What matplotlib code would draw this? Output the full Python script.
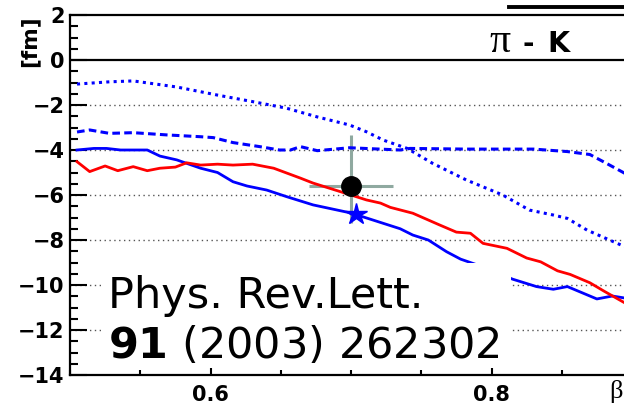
import matplotlib.pyplot as plt
from matplotlib.ticker import MultipleLocator
from matplotlib.patches import Rectangle
from matplotlib.lines import Line2D

# HBT source-shift vs. pair velocity, pi-K pairs
beta_red = [0.505, 0.514, 0.525, 0.534, 0.545, 0.555, 0.564, 0.575, 0.583, 0.593,
            0.605, 0.616, 0.630, 0.645, 0.664, 0.673, 0.700, 0.711, 0.721, 0.728,
            0.744, 0.763, 0.775, 0.785, 0.794, 0.811, 0.825, 0.835, 0.847, 0.856,
            0.870, 0.880, 0.895]
shift_red = [-4.52, -4.96, -4.71, -4.92, -4.74, -4.92, -4.81, -4.76, -4.57, -4.67,
             -4.63, -4.67, -4.63, -4.81, -5.25, -5.47, -6.00, -6.22, -6.36, -6.55,
             -6.81, -7.33, -7.65, -7.70, -8.15, -8.37, -8.80, -8.97, -9.37, -9.53,
             -9.90, -10.27, -10.80]

beta_solid = [0.505, 0.517, 0.526, 0.536, 0.555, 0.564, 0.576, 0.593, 0.605, 0.616,
              0.626, 0.640, 0.654, 0.673, 0.700, 0.721, 0.735, 0.744, 0.755, 0.768,
              0.778, 0.790, 0.815, 0.832, 0.844, 0.854, 0.875, 0.886, 0.895]
shift_solid = [-4.00, -3.93, -3.93, -4.00, -4.00, -4.27, -4.44, -4.81, -5.00, -5.41,
               -5.60, -5.78, -6.07, -6.44, -6.80, -7.22, -7.50, -7.78, -8.00, -8.52,
               -8.85, -9.11, -9.74, -10.07, -10.19, -10.07, -10.62, -10.49, -10.58]

beta_dashed = [0.505, 0.514, 0.528, 0.545, 0.569, 0.593, 0.602, 0.616, 0.635, 0.649,
               0.657, 0.664, 0.676, 0.699, 0.735, 0.742, 0.782, 0.830, 0.854, 0.870,
               0.882, 0.895]
shift_dashed = [-3.20, -3.11, -3.26, -3.23, -3.33, -3.41, -3.45, -3.67, -3.85, -4.00,
                -4.00, -3.85, -4.03, -3.90, -4.00, -3.93, -3.96, -3.96, -4.07, -4.20,
                -4.60, -5.04]

beta_dotted = [0.505, 0.528, 0.545, 0.576, 0.605, 0.630, 0.654, 0.676, 0.699, 0.711,
               0.723, 0.740, 0.758, 0.782, 0.808, 0.827, 0.844, 0.854, 0.868, 0.884,
               0.895]
shift_dotted = [-1.07, -0.97, -0.93, -1.20, -1.56, -1.85, -2.14, -2.53, -2.89, -3.19,
                -3.56, -3.93, -4.59, -5.33, -6.00, -6.67, -6.89, -7.04, -7.56, -8.00,
                -8.30]

# measured point with errors, and model point
data_beta, data_shift = 0.700, -5.6
data_xerr = 0.03
data_yerr = [[1.64], [2.27]]
model_beta, model_shift = 0.7036, -6.84

y_ticks = list(range(-14, 3, 2))
grid_levels = [-2, -4, -6, -8, -10, -12]

fig = plt.figure(figsize=(6.24, 4.09), dpi=100)
ax = fig.add_axes([70 / 624, 34 / 409, 562 / 624, 360 / 409])
ax.set_xlim(0.5, 0.9)
ax.set_ylim(-14, 2)

for g in grid_levels:
    ax.axhline(g, color='#555555', lw=1.0, ls=(0, (1, 2.5)), zorder=1)
ax.axhline(0, color='black', lw=1.6, zorder=1)

ax.errorbar(data_beta, data_shift, xerr=data_xerr, yerr=data_yerr, fmt='none',
            ecolor='#8fa9a0', elinewidth=2.2, capsize=0, zorder=2)

ax.plot(beta_dotted, shift_dotted, color='blue', lw=2.2, ls=(0, (1, 1.4)), zorder=3)
ax.plot(beta_dashed, shift_dashed, color='blue', lw=2.2, ls=(0, (2.5, 1.4)), zorder=3)
ax.plot(beta_solid, shift_solid, color='blue', lw=2.0, zorder=3)
ax.plot(beta_red, shift_red, color='red', lw=2.0, zorder=3)

ax.plot(data_beta, data_shift, 'o', color='black', ms=14, zorder=4)
ax.plot(model_beta, model_shift, '*', color='blue', ms=16, mec='blue', zorder=4)

# white panel behind the reference
ax.add_patch(Rectangle((31 / 562, 7 / 360), 410 / 562, 105 / 360,
                       transform=ax.transAxes, facecolor='white',
                       edgecolor='none', zorder=5))
ax.text(38 / 562, 67 / 360, 'Phys. Rev.Lett.', transform=ax.transAxes,
        fontsize=31, family='DejaVu Sans', va='baseline', ha='left', zorder=6)
ax.text(38 / 562, 17 / 360, r'$\mathbf{91}$ (2003) 262302', transform=ax.transAxes,
        fontsize=31, family='DejaVu Sans', va='baseline', ha='left', zorder=6)

# axes styling
ax.set_yticks(y_ticks)
ax.yaxis.set_minor_locator(MultipleLocator(0.5))
ax.set_xticks([0.6, 0.8])
ax.set_xticklabels(['0.6', '0.8'])
ax.xaxis.set_minor_locator(MultipleLocator(0.05))
ax.tick_params(axis='y', which='major', direction='in', length=12, width=1.5,
               labelsize=15, pad=4, right=False)
ax.tick_params(axis='y', which='minor', direction='in', length=6, width=1.5, right=False)
ax.tick_params(axis='x', which='major', direction='in', length=5, width=1.5,
               labelsize=15, pad=7, top=False)
ax.tick_params(axis='x', which='minor', direction='in', length=3.5, width=1.5, top=False)
for lbl in ax.get_xticklabels() + ax.get_yticklabels():
    lbl.set_fontweight('bold')
    lbl.set_family('DejaVu Sans')

for side in ['left', 'bottom', 'top']:
    ax.spines[side].set_linewidth(1.6)
ax.spines['right'].set_visible(False)

fig.text(29.5 / 624, 1 - 15 / 409, '[fm]', rotation=90, ha='center', va='top',
         fontsize=15.5, fontweight='bold', family='DejaVu Sans')
fig.text(616 / 624, 1 - 398 / 409, 'β', ha='center', va='baseline',
         fontsize=19, family='Liberation Serif')
fig.text(489 / 624, 1 - 52 / 409, 'π', ha='left', va='baseline',
         fontsize=30, family='Liberation Serif')
fig.text(522 / 624, 1 - 52 / 409, '-', ha='left', va='baseline',
         fontsize=20, fontweight='bold', family='DejaVu Sans')
fig.text(547 / 624, 1 - 52 / 409, 'K', ha='left', va='baseline',
         fontsize=20.5, fontweight='bold', family='DejaVu Sans')
fig.add_artist(Line2D([509 / 624, 1.0], [1 - 7 / 409, 1 - 7 / 409],
                      transform=fig.transFigure, color='black', lw=2.8))

fig.savefig('out.png', dpi=100)
